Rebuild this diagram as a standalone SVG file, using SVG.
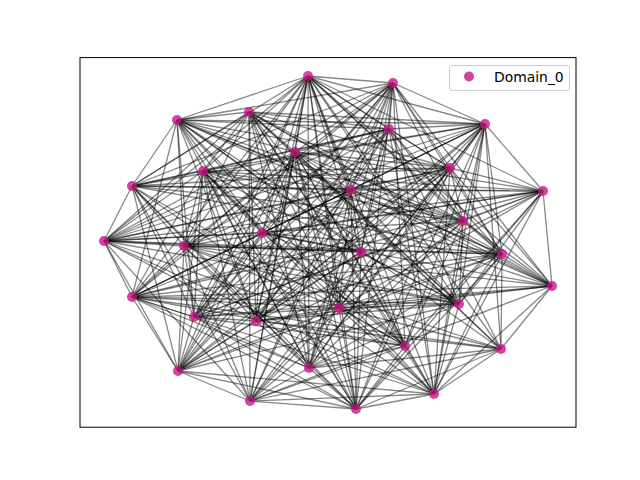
<svg xmlns="http://www.w3.org/2000/svg" width="640" height="480" viewBox="0 0 640 480">
<style>
.n circle{fill:#C71585;fill-opacity:0.8;}
#edges path{fill:none;stroke:#000;stroke-opacity:0.47;stroke-width:1.3;}
.lbl{font-family:"DejaVu Sans",sans-serif;font-size:13.9px;fill:#000;}
</style>
<rect x="0" y="0" width="640" height="480" fill="#fff"/>
<g id="edges">
<path d="M308 76L393 83"/><path d="M308 76L177 120"/><path d="M308 76L485 124"/><path d="M308 76L389 129"/><path d="M308 76L450 168"/><path d="M308 76L203 171"/><path d="M308 76L351 190"/><path d="M308 76L543 191"/><path d="M308 76L463 221"/><path d="M308 76L262 233"/><path d="M308 76L104 241"/><path d="M308 76L552 286"/><path d="M308 76L132 297"/><path d="M308 76L339 308"/><path d="M308 76L194 317"/><path d="M308 76L256 321"/><path d="M308 76L178 371"/><path d="M308 76L356 409"/><path d="M308 76L434 394"/>
<path d="M393 83L177 120"/><path d="M393 83L485 124"/><path d="M393 83L389 129"/><path d="M393 83L295 152"/><path d="M393 83L450 168"/><path d="M393 83L132 186"/><path d="M393 83L351 190"/><path d="M393 83L463 221"/><path d="M393 83L262 233"/><path d="M393 83L184 246"/><path d="M393 83L361 252"/><path d="M393 83L552 286"/><path d="M393 83L132 297"/><path d="M393 83L194 317"/><path d="M393 83L256 321"/><path d="M393 83L178 371"/><path d="M393 83L309 368"/><path d="M393 83L250 401"/><path d="M393 83L356 409"/><path d="M393 83L434 394"/>
<path d="M177 120L249 112"/><path d="M177 120L485 124"/><path d="M177 120L389 129"/><path d="M177 120L132 186"/><path d="M177 120L351 190"/><path d="M177 120L463 221"/><path d="M177 120L262 233"/><path d="M177 120L184 246"/><path d="M177 120L502 254"/><path d="M177 120L552 286"/><path d="M177 120L459 304"/><path d="M177 120L194 317"/><path d="M177 120L256 321"/><path d="M177 120L405 346"/><path d="M177 120L501 349"/><path d="M177 120L309 368"/><path d="M177 120L434 394"/>
<path d="M249 112L485 124"/><path d="M249 112L295 152"/><path d="M249 112L203 171"/><path d="M249 112L463 221"/><path d="M249 112L104 241"/><path d="M249 112L184 246"/><path d="M249 112L361 252"/><path d="M249 112L502 254"/><path d="M249 112L339 308"/><path d="M249 112L459 304"/><path d="M249 112L256 321"/><path d="M249 112L405 346"/><path d="M249 112L501 349"/><path d="M249 112L356 409"/>
<path d="M485 124L450 168"/><path d="M485 124L203 171"/><path d="M485 124L132 186"/><path d="M485 124L351 190"/><path d="M485 124L543 191"/><path d="M485 124L463 221"/><path d="M485 124L104 241"/><path d="M485 124L184 246"/><path d="M485 124L361 252"/><path d="M485 124L502 254"/><path d="M485 124L132 297"/><path d="M485 124L339 308"/><path d="M485 124L459 304"/><path d="M485 124L256 321"/><path d="M485 124L405 346"/><path d="M485 124L356 409"/>
<path d="M389 129L295 152"/><path d="M389 129L203 171"/><path d="M389 129L132 186"/><path d="M389 129L351 190"/><path d="M389 129L463 221"/><path d="M389 129L184 246"/><path d="M389 129L361 252"/><path d="M389 129L502 254"/><path d="M389 129L459 304"/><path d="M389 129L194 317"/><path d="M389 129L256 321"/><path d="M389 129L178 371"/><path d="M389 129L309 368"/>
<path d="M295 152L450 168"/><path d="M295 152L351 190"/><path d="M295 152L463 221"/><path d="M295 152L262 233"/><path d="M295 152L552 286"/><path d="M295 152L132 297"/><path d="M295 152L339 308"/><path d="M295 152L459 304"/><path d="M295 152L194 317"/><path d="M295 152L256 321"/><path d="M295 152L405 346"/><path d="M295 152L501 349"/><path d="M295 152L250 401"/><path d="M295 152L356 409"/><path d="M295 152L434 394"/>
<path d="M450 168L203 171"/><path d="M450 168L132 186"/><path d="M450 168L351 190"/><path d="M450 168L543 191"/><path d="M450 168L184 246"/><path d="M450 168L502 254"/><path d="M450 168L552 286"/><path d="M450 168L132 297"/><path d="M450 168L339 308"/><path d="M450 168L194 317"/><path d="M450 168L256 321"/><path d="M450 168L178 371"/><path d="M450 168L309 368"/><path d="M450 168L250 401"/><path d="M450 168L356 409"/><path d="M450 168L434 394"/>
<path d="M203 171L132 186"/><path d="M203 171L351 190"/><path d="M203 171L262 233"/><path d="M203 171L104 241"/><path d="M203 171L184 246"/><path d="M203 171L552 286"/><path d="M203 171L132 297"/><path d="M203 171L339 308"/><path d="M203 171L459 304"/><path d="M203 171L194 317"/><path d="M203 171L256 321"/><path d="M203 171L405 346"/><path d="M203 171L250 401"/><path d="M203 171L356 409"/><path d="M203 171L434 394"/>
<path d="M132 186L351 190"/><path d="M132 186L543 191"/><path d="M132 186L104 241"/><path d="M132 186L184 246"/><path d="M132 186L502 254"/><path d="M132 186L194 317"/><path d="M132 186L405 346"/><path d="M132 186L178 371"/><path d="M132 186L309 368"/><path d="M132 186L250 401"/><path d="M132 186L356 409"/><path d="M132 186L434 394"/>
<path d="M351 190L543 191"/><path d="M351 190L463 221"/><path d="M351 190L262 233"/><path d="M351 190L104 241"/><path d="M351 190L502 254"/><path d="M351 190L552 286"/><path d="M351 190L132 297"/><path d="M351 190L459 304"/><path d="M351 190L194 317"/><path d="M351 190L256 321"/><path d="M351 190L178 371"/><path d="M351 190L309 368"/><path d="M351 190L250 401"/>
<path d="M543 191L463 221"/><path d="M543 191L262 233"/><path d="M543 191L104 241"/><path d="M543 191L184 246"/><path d="M543 191L552 286"/><path d="M543 191L339 308"/><path d="M543 191L194 317"/><path d="M543 191L405 346"/><path d="M543 191L178 371"/><path d="M543 191L356 409"/><path d="M543 191L434 394"/>
<path d="M463 221L104 241"/><path d="M463 221L502 254"/><path d="M463 221L132 297"/><path d="M463 221L459 304"/><path d="M463 221L194 317"/><path d="M463 221L256 321"/><path d="M463 221L405 346"/><path d="M463 221L309 368"/><path d="M463 221L250 401"/><path d="M463 221L434 394"/>
<path d="M262 233L361 252"/><path d="M262 233L502 254"/><path d="M262 233L552 286"/><path d="M262 233L132 297"/><path d="M262 233L459 304"/><path d="M262 233L194 317"/><path d="M262 233L256 321"/><path d="M262 233L405 346"/><path d="M262 233L178 371"/><path d="M262 233L356 409"/>
<path d="M104 241L184 246"/><path d="M104 241L361 252"/><path d="M104 241L502 254"/><path d="M104 241L132 297"/><path d="M104 241L459 304"/><path d="M104 241L256 321"/><path d="M104 241L405 346"/><path d="M104 241L178 371"/><path d="M104 241L250 401"/><path d="M104 241L434 394"/>
<path d="M184 246L502 254"/><path d="M184 246L552 286"/><path d="M184 246L339 308"/><path d="M184 246L459 304"/><path d="M184 246L194 317"/><path d="M184 246L256 321"/><path d="M184 246L501 349"/><path d="M184 246L178 371"/><path d="M184 246L356 409"/>
<path d="M361 252L256 321"/><path d="M361 252L178 371"/><path d="M361 252L309 368"/><path d="M361 252L250 401"/><path d="M361 252L356 409"/>
<path d="M502 254L552 286"/><path d="M502 254L132 297"/><path d="M502 254L339 308"/><path d="M502 254L459 304"/><path d="M502 254L194 317"/><path d="M502 254L178 371"/><path d="M502 254L309 368"/><path d="M502 254L356 409"/><path d="M502 254L434 394"/>
<path d="M552 286L132 297"/><path d="M552 286L339 308"/><path d="M552 286L194 317"/><path d="M552 286L256 321"/><path d="M552 286L501 349"/><path d="M552 286L250 401"/><path d="M552 286L434 394"/>
<path d="M132 297L339 308"/><path d="M132 297L405 346"/><path d="M132 297L501 349"/><path d="M132 297L178 371"/><path d="M132 297L309 368"/><path d="M132 297L434 394"/>
<path d="M339 308L459 304"/><path d="M339 308L194 317"/><path d="M339 308L256 321"/><path d="M339 308L405 346"/><path d="M339 308L501 349"/><path d="M339 308L178 371"/><path d="M339 308L250 401"/><path d="M339 308L356 409"/>
<path d="M459 304L256 321"/><path d="M459 304L178 371"/><path d="M459 304L309 368"/><path d="M459 304L434 394"/>
<path d="M194 317L405 346"/><path d="M194 317L178 371"/><path d="M194 317L356 409"/>
<path d="M256 321L501 349"/><path d="M256 321L178 371"/><path d="M256 321L434 394"/>
<path d="M405 346L309 368"/><path d="M405 346L250 401"/><path d="M405 346L356 409"/><path d="M405 346L434 394"/>
<path d="M501 349L309 368"/><path d="M501 349L250 401"/><path d="M501 349L356 409"/><path d="M501 349L434 394"/>
<path d="M178 371L250 401"/><path d="M178 371L356 409"/><path d="M178 371L434 394"/>
<path d="M309 368L250 401"/><path d="M309 368L356 409"/>
<path d="M250 401L356 409"/><path d="M250 401L434 394"/>
<path d="M356 409L434 394"/>
<path d="M308 76L132 186"/><path d="M308 76L184 246"/><path d="M308 76L502 254"/><path d="M308 76L405 346"/><path d="M308 76L501 349"/><path d="M308 76L309 368"/>
<path d="M393 83L104 241"/><path d="M393 83L502 254"/><path d="M177 120L450 168"/><path d="M177 120L356 409"/><path d="M249 112L450 168"/><path d="M249 112L309 368"/>
<path d="M485 124L389 129"/><path d="M485 124L262 233"/><path d="M485 124L309 368"/><path d="M389 129L450 168"/><path d="M295 152L543 191"/>
<path d="M450 168L463 221"/><path d="M450 168L104 241"/><path d="M203 171L543 191"/><path d="M203 171L463 221"/><path d="M203 171L178 371"/><path d="M203 171L309 368"/>
<path d="M132 186L463 221"/><path d="M351 190L361 252"/><path d="M351 190L339 308"/><path d="M351 190L356 409"/><path d="M543 191L132 297"/><path d="M543 191L459 304"/>
<path d="M463 221L552 286"/><path d="M262 233L104 241"/><path d="M184 246L361 252"/><path d="M184 246L132 297"/><path d="M184 246L250 401"/>
<path d="M361 252L339 308"/><path d="M361 252L459 304"/><path d="M361 252L405 346"/><path d="M502 254L501 349"/>
<path d="M132 297L459 304"/><path d="M132 297L194 317"/><path d="M132 297L356 409"/><path d="M339 308L434 394"/>
<path d="M194 317L256 321"/><path d="M194 317L309 368"/><path d="M256 321L309 368"/>
<path d="M308 76L295 152"/><path d="M308 76L361 252"/><path d="M308 76L459 304"/><path d="M308 76L250 401"/><path d="M393 83L405 346"/>
<path d="M177 120L295 152"/><path d="M177 120L361 252"/><path d="M177 120L132 297"/>
<path d="M249 112L389 129"/><path d="M249 112L132 186"/><path d="M249 112L552 286"/><path d="M249 112L250 401"/><path d="M249 112L434 394"/>
<path d="M485 124L501 349"/><path d="M485 124L178 371"/><path d="M485 124L434 394"/>
<path d="M389 129L104 241"/><path d="M389 129L501 349"/><path d="M389 129L434 394"/>
<path d="M295 152L104 241"/><path d="M295 152L178 371"/><path d="M295 152L309 368"/>
</g>
<g id="nodes">
<g id="n0" class="n"><circle cx="308" cy="76" r="5"/></g>
<g id="n1" class="n"><circle cx="393" cy="83" r="5"/></g>
<g id="n2" class="n"><circle cx="177" cy="120" r="5"/></g>
<g id="n3" class="n"><circle cx="249" cy="112" r="5"/></g>
<g id="n4" class="n"><circle cx="485" cy="124" r="5"/></g>
<g id="n5" class="n"><circle cx="389" cy="129" r="5"/></g>
<g id="n6" class="n"><circle cx="295" cy="152" r="5"/></g>
<g id="n7" class="n"><circle cx="450" cy="168" r="5"/></g>
<g id="n8" class="n"><circle cx="203" cy="171" r="5"/></g>
<g id="n9" class="n"><circle cx="132" cy="186" r="5"/></g>
<g id="n10" class="n"><circle cx="351" cy="190" r="5"/></g>
<g id="n11" class="n"><circle cx="543" cy="191" r="5"/></g>
<g id="n12" class="n"><circle cx="463" cy="221" r="5"/></g>
<g id="n13" class="n"><circle cx="262" cy="233" r="5"/></g>
<g id="n14" class="n"><circle cx="104" cy="241" r="5"/></g>
<g id="n15" class="n"><circle cx="184" cy="246" r="5"/></g>
<g id="n16" class="n"><circle cx="361" cy="252" r="5"/></g>
<g id="n17" class="n"><circle cx="502" cy="254" r="5"/></g>
<g id="n18" class="n"><circle cx="552" cy="286" r="5"/></g>
<g id="n19" class="n"><circle cx="132" cy="297" r="5"/></g>
<g id="n20" class="n"><circle cx="339" cy="308" r="5"/></g>
<g id="n21" class="n"><circle cx="459" cy="304" r="5"/></g>
<g id="n22" class="n"><circle cx="194" cy="317" r="5"/></g>
<g id="n23" class="n"><circle cx="256" cy="321" r="5"/></g>
<g id="n24" class="n"><circle cx="405" cy="346" r="5"/></g>
<g id="n25" class="n"><circle cx="501" cy="349" r="5"/></g>
<g id="n26" class="n"><circle cx="178" cy="371" r="5"/></g>
<g id="n27" class="n"><circle cx="309" cy="368" r="5"/></g>
<g id="n28" class="n"><circle cx="250" cy="401" r="5"/></g>
<g id="n29" class="n"><circle cx="356" cy="409" r="5"/></g>
<g id="n30" class="n"><circle cx="434" cy="394" r="5"/></g>
</g>
<rect x="80" y="57.6" width="496" height="369.6" fill="none" stroke="#000" stroke-width="1"/>
<g id="legend">
<rect x="449.5" y="65.5" width="120" height="25" rx="2.5" fill="#fff" fill-opacity="0.8" stroke="#ccc" stroke-width="1"/>
<g class="n"><circle cx="469" cy="76.5" r="5"/></g>
<text class="lbl" x="494" y="81.5">Domain_0</text>
</g>
</svg>
